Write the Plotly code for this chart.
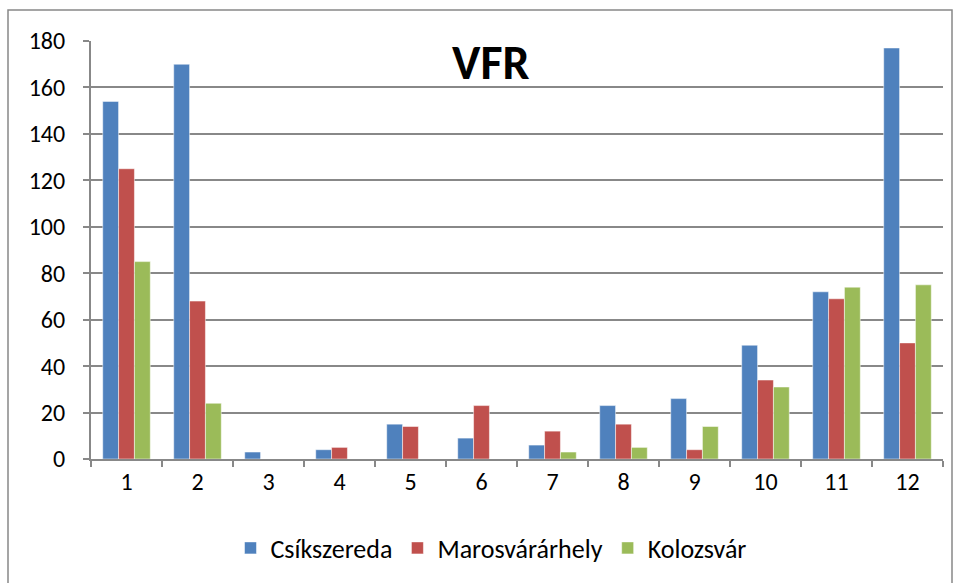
from plotly import graph_objects as go

months = [str(i) for i in range(1, 13)]
csikszereda = [154, 170, 3, 4, 15, 9, 6, 23, 26, 49, 72, 177]
marosvasarhely = [125, 68, 0, 5, 14, 23, 12, 15, 4, 34, 69, 50]
kolozsvar = [85, 24, 0, 0, 0, 0, 3, 5, 14, 31, 74, 75]

series = [("Csíkszereda", csikszereda, "#4F81BD"),
          ("Marosvárárhely", marosvasarhely, "#C0504D"),
          ("Kolozsvár", kolozsvar, "#9BBB59")]

W, H = 960, 583
L, R, T, B = 91, 17, 41, 124
pw, ph = W - L - R, H - T - B
FONT = "Carlito, Lato, Liberation Sans, sans-serif"

fig = go.Figure()
for name, vals, col in series:
    fig.add_trace(go.Bar(x=months, y=vals, name=name,
                         marker=dict(color=col, line=dict(color="white", width=0.5))))

fig.update_layout(width=W, height=H, barmode="group", bargap=0.33, bargroupgap=0,
                  paper_bgcolor="white", plot_bgcolor="white",
                  margin=dict(l=L, r=R, t=T, b=B, autoexpand=False),
                  font=dict(family=FONT, size=24, color="black"),
                  legend=dict(orientation="h", x=(491 - L) / pw, xanchor="center",
                              y=1 - (548 - T) / ph, yanchor="middle",
                              font=dict(size=26), traceorder="normal"),
                  showlegend=True)
fig.update_xaxes(type="category", tickson="boundaries", ticks="outside", ticklen=6,
                 tickcolor="#888888", tickwidth=2, showline=True, linecolor="#888888", linewidth=2,
                 showgrid=False, tickfont=dict(size=24))
fig.update_yaxes(range=[0, 180], dtick=20, ticks="outside", ticklen=6, tickcolor="#888888",
                 tickwidth=2, showline=True, linecolor="#888888", linewidth=2,
                 gridcolor="#888888", gridwidth=1.5, zeroline=False, tickfont=dict(size=24),
                 ticklabelstandoff=13)

fig.add_annotation(text="<b>VFR</b>", xref="paper", yref="paper",
                   x=(490 - L) / pw, y=1 - (63 - T) / ph, yanchor="middle",
                   showarrow=False, font=dict(size=48, family=FONT))

# outer chart border
fig.add_shape(type="rect", xref="paper", yref="paper",
              x0=(8 - L) / pw, x1=(952 - L) / pw,
              y0=1 - (590 - T) / ph, y1=1 - (10 - T) / ph,
              line=dict(color="#888888", width=1.5), fillcolor="rgba(0,0,0,0)", layer="below")

fig.write_html("out.html", config={"displayModeBar": False},
               post_script="document.body.style.margin='0';")
